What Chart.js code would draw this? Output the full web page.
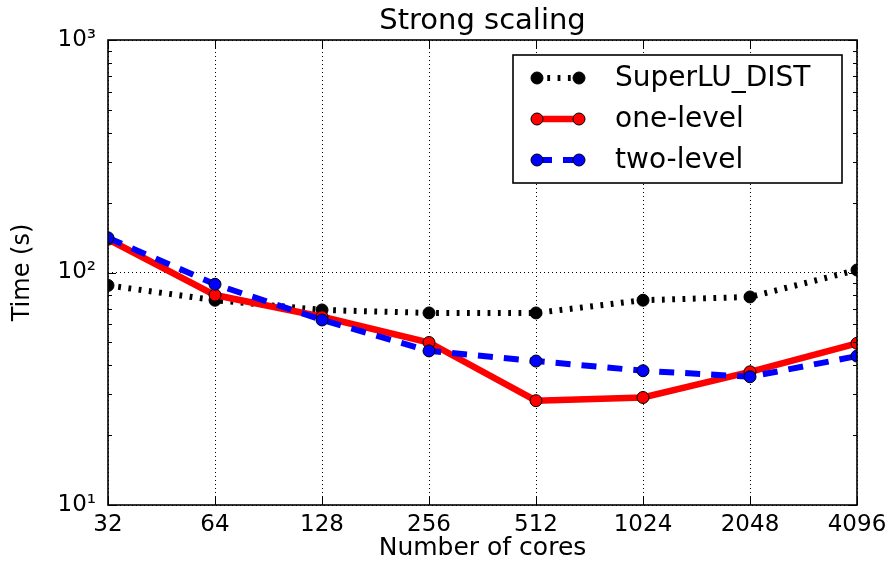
<!DOCTYPE html>
<html><head><meta charset="utf-8">
<script src="https://cdn.jsdelivr.net/npm/chart.js@4"></script>
<style>html,body{margin:0;padding:0;background:#fff}#wrap{width:895px;height:561px;position:relative}</style>
</head><body><div id="wrap"><canvas id="c" width="895" height="561"></canvas></div>
<script>
const cores = ['32','64','128','256','512','1024','2048','4096'];
const superluDist = [88, 76, 69, 67, 67, 76, 78.5, 102.5];
const oneLevel = [139, 80, 64.5, 50, 28.1, 29, 37.4, 49.6];
const twoLevel = [141, 89, 62.5, 46, 41.6, 37.8, 35.6, 43.7];
const yMajorTicks = [10, 100, 1000];
const yTickLabels = ['10¹', '10²', '10³'];
const seriesNames = ['SuperLU_DIST', 'one-level', 'two-level'];

const FONT = "'DejaVu Sans', sans-serif";
const styles = [
  {color:'#000000', fill:'#000000', width:6, dash:[2.8, 7.5]},
  {color:'#ff0000', fill:'#ff0000', width:6.5, dash:[]},
  {color:'#0000ff', fill:'#0000ff', width:6, dash:[15, 11]}
];
const seriesData = [superluDist, oneLevel, twoLevel];

const decorPlugin = {
  id: 'decor',
  afterDraw(chart) {
    const {ctx, chartArea: a, scales: {x, y}} = chart;
    ctx.save();
    ctx.strokeStyle = '#000';
    ctx.lineWidth = 1;
    ctx.setLineDash([]);
    cores.forEach((c, i) => {
      const px = Math.round(x.getPixelForValue(i)) + 0.5;
      ctx.beginPath();
      ctx.moveTo(px, a.bottom); ctx.lineTo(px, a.bottom - 8);
      ctx.moveTo(px, a.top); ctx.lineTo(px, a.top + 8);
      ctx.stroke();
    });
    yMajorTicks.forEach(v => {
      const py = Math.round(y.getPixelForValue(v)) + 0.5;
      ctx.beginPath();
      ctx.moveTo(a.left, py); ctx.lineTo(a.left + 8, py);
      ctx.moveTo(a.right, py); ctx.lineTo(a.right - 8, py);
      ctx.stroke();
    });
    [10, 100].forEach(d => {
      for (let m = 2; m <= 9; m++) {
        const py = Math.round(y.getPixelForValue(d * m)) + 0.5;
        ctx.beginPath();
        ctx.moveTo(a.left, py); ctx.lineTo(a.left + 4, py);
        ctx.moveTo(a.right, py); ctx.lineTo(a.right - 4, py);
        ctx.stroke();
      }
    });
    ctx.lineWidth = 1.6;
    ctx.strokeRect(a.left, a.top, a.right - a.left, a.bottom - a.top);

    const bw = 329, bh = 128;
    const bx = a.right - 15 - bw, by = a.top + 15;
    ctx.fillStyle = '#fff';
    ctx.fillRect(bx, by, bw, bh);
    ctx.lineWidth = 1.6;
    ctx.strokeStyle = '#000';
    ctx.strokeRect(bx, by, bw, bh);
    ctx.font = '28px ' + FONT;
    ctx.textBaseline = 'middle';
    ctx.textAlign = 'left';
    seriesNames.forEach((name, i) => {
      const s = styles[i];
      const ry = by + 23 + i * 41;
      const x0 = bx + 24, x1 = bx + 66;
      ctx.save();
      ctx.strokeStyle = s.color;
      ctx.lineWidth = s.width;
      ctx.setLineDash(s.dash);
      ctx.lineCap = 'butt';
      ctx.beginPath(); ctx.moveTo(x0, ry); ctx.lineTo(x1, ry); ctx.stroke();
      ctx.setLineDash([]);
      [x0, x1].forEach(px => {
        ctx.beginPath(); ctx.arc(px, ry, 6, 0, Math.PI * 2);
        ctx.fillStyle = s.fill; ctx.fill();
        ctx.lineWidth = 1; ctx.strokeStyle = '#000'; ctx.stroke();
      });
      ctx.restore();
      ctx.fillStyle = '#000';
      ctx.fillText(name, bx + 102, ry + 1);
    });
    ctx.restore();
  }
};

new Chart(document.getElementById('c'), {
  type: 'line',
  data: {
    labels: cores,
    datasets: seriesNames.map((name, i) => ({
      label: name,
      data: seriesData[i],
      borderColor: styles[i].color,
      borderWidth: styles[i].width,
      borderDash: styles[i].dash,
      borderCapStyle: 'butt',
      pointRadius: 6,
      pointHoverRadius: 6,
      pointBackgroundColor: styles[i].fill,
      pointBorderColor: '#000',
      pointBorderWidth: 1,
      fill: false,
      tension: 0,
      clip: 0,
      order: 3 - i
    }))
  },
  options: {
    responsive: false,
    devicePixelRatio: 1,
    animation: false,
    layout: {padding: {left: 0, right: 38, top: 0, bottom: 0}},
    plugins: {
      legend: {display: false},
      tooltip: {enabled: false},
      title: {
        display: true,
        text: 'Strong scaling',
        color: '#000',
        fullSize: false,
        font: {family: FONT, size: 29, weight: 'normal', lineHeight: 1.0},
        padding: {top: 7, bottom: 4}
      }
    },
    scales: {
      x: {
        type: 'category',
        offset: false,
        grid: {display: true, color: '#000', lineWidth: 1, drawTicks: false},
        border: {display: false, dash: [1, 3]},
        ticks: {color: '#000', font: {family: FONT, size: 23}, padding: 6, maxRotation: 0, autoSkip: false},
        title: {display: true, text: 'Number of cores', color: '#000', font: {family: FONT, size: 25, lineHeight: 1.0}, padding: {top: 0, bottom: 0}},
        afterFit(scale) { scale.height = 56; }
      },
      y: {
        type: 'logarithmic',
        min: 10,
        max: 1000,
        grid: {display: true, color: '#000', lineWidth: 1, drawTicks: false},
        border: {display: false, dash: [1, 3]},
        afterBuildTicks(scale) { scale.ticks = yMajorTicks.map(v => ({value: v, major: true})); },
        ticks: {
          color: '#000', font: {family: FONT, size: 23}, padding: 12,
          callback(value) { const k = yMajorTicks.indexOf(value); return k >= 0 ? yTickLabels[k] : ''; }
        },
        title: {display: true, text: 'Time (s)', color: '#000', font: {family: FONT, size: 24}, padding: {top: 8, bottom: 0}},
        afterFit(scale) { scale.width = 108; }
      }
    }
  },
  plugins: [decorPlugin]
});
</script>
</body></html>
